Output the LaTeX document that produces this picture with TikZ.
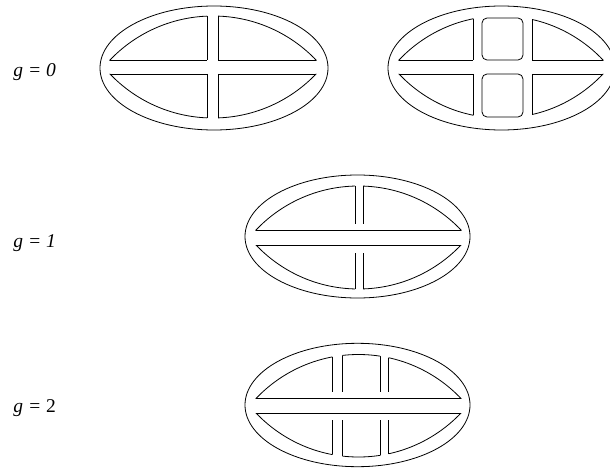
\documentclass[tikz,border=0pt]{standalone}
\usepackage{fontspec}
\setmainfont{Liberation Serif}
\begin{document}
\begin{tikzpicture}[x=1pt,y=-1pt,line width=0.8pt,
  lbl/.style={anchor=base west,inner sep=0pt,font=\fontsize{19.5}{22}\selectfont\itshape}]
\useasboundingbox (0,0) rectangle (610,468);

% labels
\node[lbl] (l0) at (13,77) {g = 0};
\node[lbl] (l1) at (13,247) {g = 1};
\node[lbl] (l2) at (13,412) {g = {\upshape 2}};

% ---------- D1 (g=0, left) ----------
\draw (214,68) ellipse [x radius=114pt, y radius=62pt];
\begin{scope}
  \clip (213,158.6) circle [radius=142.6pt];
  \draw (100,60) -- (207,60) (218,60) -- (330,60);
  \draw (207,0) -- (207,60) (218,0) -- (218,60);
\end{scope}
\begin{scope}
  \clip (213,-24.6) circle [radius=142.6pt];
  \draw (100,74) -- (207,74) (218,74) -- (330,74);
  \draw (207,74) -- (207,140) (218,74) -- (218,140);
\end{scope}
\begin{scope}
  \clip (90,0) rectangle (207,60) (218,0) rectangle (340,60);
  \draw (213,158.6) circle [radius=142.6pt];
\end{scope}
\begin{scope}
  \clip (90,74) rectangle (207,140) (218,74) rectangle (340,140);
  \draw (213,-24.6) circle [radius=142.6pt];
\end{scope}

% ---------- D2 (g=0, right) ----------
\draw (501.5,68) ellipse [x radius=113.5pt, y radius=62pt];
\begin{scope}
  \clip (501,156.2) circle [radius=140.2pt];
  \draw (390,60) -- (473,60) (532,60) -- (615,60);
  \draw (473,0) -- (473,60) (532,0) -- (532,60);
\end{scope}
\begin{scope}
  \clip (501,-22.2) circle [radius=140.2pt];
  \draw (390,74) -- (473,74) (532,74) -- (615,74);
  \draw (473,74) -- (473,140) (532,74) -- (532,140);
\end{scope}
\begin{scope}
  \clip (380,0) rectangle (473,60) (532,0) rectangle (620,60);
  \draw (501,156.2) circle [radius=140.2pt];
\end{scope}
\begin{scope}
  \clip (380,74) rectangle (473,140) (532,74) rectangle (620,140);
  \draw (501,-22.2) circle [radius=140.2pt];
\end{scope}
\draw[rounded corners=5pt] (482,18) rectangle (523,60);
\draw[rounded corners=5pt] (482,74) rectangle (523,117);

% ---------- D3 (g=1) ----------
\draw (357.5,236.5) ellipse [x radius=112.5pt, y radius=61.5pt];
\begin{scope}
  \clip (358.5,327.4) circle [radius=141.4pt];
  \draw (250,230) -- (470,230);
  \draw (355,170) -- (355,224) (363,170) -- (363,224);
\end{scope}
\begin{scope}
  \clip (358.5,147.6) circle [radius=141.4pt];
  \draw (250,245) -- (470,245);
  \draw (355,253) -- (355,305) (363,253) -- (363,305);
\end{scope}
\begin{scope}
  \clip (240,170) rectangle (355,230) (363,170) rectangle (480,230);
  \draw (358.5,327.4) circle [radius=141.4pt];
\end{scope}
\begin{scope}
  \clip (240,245) rectangle (355,305) (363,245) rectangle (480,305);
  \draw (358.5,147.6) circle [radius=141.4pt];
\end{scope}

% ---------- D4 (g=2) ----------
\draw (357.5,405) ellipse [x radius=112.5pt, y radius=61.7pt];
\begin{scope}
  \clip (358.5,495.9) circle [radius=141.4pt];
  \draw (250,398.5) -- (470,398.5);
  \draw (332,340) -- (332,392) (342.5,340) -- (342.5,392)
        (380,340) -- (380,392) (388.5,340) -- (388.5,392);
\end{scope}
\begin{scope}
  \clip (358.5,315.6) circle [radius=141.4pt];
  \draw (250,413) -- (470,413);
  \draw (332,420) -- (332,470) (342.5,420) -- (342.5,470)
        (380,420) -- (380,470) (388.5,420) -- (388.5,470);
\end{scope}
\begin{scope}
  \clip (240,340) rectangle (332,398.5) (342.5,340) rectangle (380,398.5) (388.5,340) rectangle (480,398.5);
  \draw (358.5,495.9) circle [radius=141.4pt];
\end{scope}
\begin{scope}
  \clip (240,413) rectangle (332,470) (342.5,413) rectangle (380,470) (388.5,413) rectangle (480,470);
  \draw (358.5,315.6) circle [radius=141.4pt];
\end{scope}
\end{tikzpicture}
\end{document}
